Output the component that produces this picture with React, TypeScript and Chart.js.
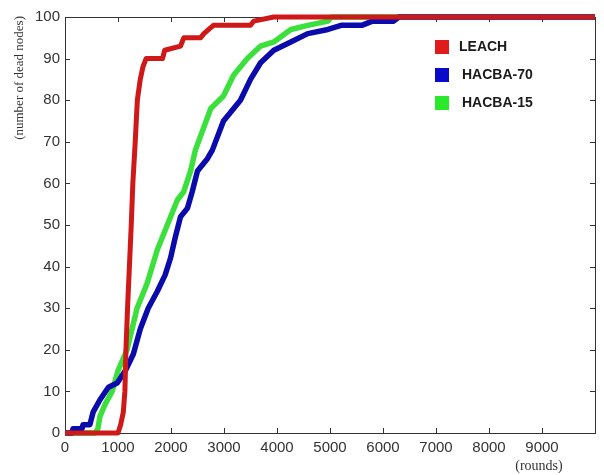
import { useEffect, useRef } from "react";
import { Chart, registerables } from "chart.js";

Chart.register(...registerables);

const xTickValues = [0, 1000, 2000, 3000, 4000, 5000, 6000, 7000, 8000, 9000];
const yTickValues = [0, 10, 20, 30, 40, 50, 60, 70, 80, 90, 100];

const seriesLabels = ["LEACH", "HACBA-70", "HACBA-15"];
const lineColors = ["#cf1818", "#0b0bab", "#3ce03c"];
const legendColors = ["#e01b1b", "#0a0acc", "#2ae82a"];

const leachRounds = [0, 1000, 1050, 1100, 1130, 1150, 1180, 1215, 1250, 1280, 1325, 1365, 1420, 1470, 1530, 1840, 1880, 2180, 2240, 2560, 2620, 2800, 3500, 3560, 3940, 10000];
const leachDead = [0, 0, 2, 5, 10, 20, 30, 40, 50, 60, 70, 80, 85, 88, 90, 90, 92, 93, 95, 95, 96, 98, 98, 99, 100, 100];

const hacba70Rounds = [0, 130, 150, 320, 340, 470, 530, 660, 820, 985, 1140, 1290, 1420, 1570, 1740, 1890, 1990, 2080, 2180, 2310, 2400, 2500, 2690, 2780, 2990, 3310, 3500, 3690, 3940, 4260, 4580, 4960, 5210, 5600, 5800, 6200, 6300, 10000];
const hacba70Dead = [0, 0, 1, 1, 2, 2, 5, 8, 11, 12, 15, 19, 25, 30, 34, 38, 42, 47, 52, 54, 58, 63, 66, 68, 75, 80, 85, 89, 92, 94, 96, 97, 98, 98, 99, 99, 100, 100];

const hacba15Rounds = [0, 570, 620, 660, 760, 890, 1000, 1170, 1360, 1550, 1740, 1930, 2120, 2240, 2370, 2460, 2750, 2990, 3180, 3440, 3690, 3940, 4260, 4580, 4960, 5020, 10000];
const hacba15Dead = [0, 0, 1, 4, 7, 10, 15, 20, 30, 36, 44, 50, 56, 58, 63, 68, 78, 81, 86, 90, 93, 94, 97, 98, 99, 100, 100];

const xTitle = "(rounds)";
const yTitle = "(number of dead nodes)";

const toPoints = (xs: number[], ys: number[]) => xs.map((x, i) => ({ x, y: ys[i] }));

const boxPlugin = {
  id: "matlabBox",
  beforeDatasetsDraw(chart: any) {
    const { ctx, chartArea } = chart;
    const { left, right, top, bottom } = chartArea;
    const xs = chart.scales.x;
    const ys = chart.scales.y;
    ctx.save();
    ctx.strokeStyle = "#333";
    ctx.lineWidth = 1;
    ctx.strokeRect(Math.round(left) + 0.5, Math.round(top) + 0.5, Math.round(right - left), Math.round(bottom - top));
    ctx.beginPath();
    const tl = 5;
    xTickValues.forEach((v) => {
      if (v === 0) return;
      const px = Math.round(xs.getPixelForValue(v)) + 0.5;
      ctx.moveTo(px, bottom);
      ctx.lineTo(px, bottom - tl);
      ctx.moveTo(px, top);
      ctx.lineTo(px, top + tl);
    });
    yTickValues.forEach((v) => {
      if (v === 0 || v === 100) return;
      const py = Math.round(ys.getPixelForValue(v)) + 0.5;
      ctx.moveTo(left, py);
      ctx.lineTo(left + tl, py);
      ctx.moveTo(right, py);
      ctx.lineTo(right - tl, py);
    });
    ctx.stroke();
    ctx.restore();
  },
  afterDraw(chart: any) {
    const { ctx, chartArea } = chart;
    ctx.save();
    // axis titles
    ctx.fillStyle = "#333";
    ctx.font = "13px 'Liberation Serif', 'Times New Roman', serif";
    ctx.textBaseline = "middle";
    ctx.save();
    ctx.translate(20, chartArea.top);
    ctx.rotate(-Math.PI / 2);
    ctx.textAlign = "right";
    ctx.fillText(yTitle, 1, 0);
    ctx.restore();
    ctx.font = "14px 'Liberation Serif', 'Times New Roman', serif";
    ctx.textAlign = "center";
    ctx.fillText(xTitle, chart.scales.x.getPixelForValue(9000) - 3, 466);
    // legend
    const lx = chartArea.left + 370;
    const ly0 = chartArea.top + 30;
    ctx.font = "bold 14px 'Liberation Sans', Arial, sans-serif";
    ctx.textAlign = "left";
    seriesLabels.forEach((label, i) => {
      const cy = ly0 + i * 28;
      ctx.fillStyle = legendColors[i];
      ctx.fillRect(lx, cy - 7, 14, 14);
      ctx.fillStyle = "#1a1a1a";
      ctx.fillText(label, lx + (i === 0 ? 24 : 27), cy);
    });
    ctx.restore();
  },
};

export default function App() {
  const canvasRef = useRef<HTMLCanvasElement | null>(null);

  useEffect(() => {
    if (!canvasRef.current) return;
    const series = [
      toPoints(leachRounds, leachDead),
      toPoints(hacba70Rounds, hacba70Dead),
      toPoints(hacba15Rounds, hacba15Dead),
    ];
    const chart = new Chart(canvasRef.current, {
      type: "line",
      data: {
        datasets: series.map((data, i) => ({
          label: seriesLabels[i],
          data,
          borderColor: lineColors[i],
          backgroundColor: lineColors[i],
          borderWidth: i === 0 ? 5 : 5.5,
          pointRadius: 0,
          tension: 0,
          fill: false,
          clip: false as any,
          borderJoinStyle: "round" as const,
          borderCapStyle: "butt" as const,
        })),
      },
      options: {
        animation: false,
        responsive: false,
        maintainAspectRatio: false,
        layout: { padding: { left: 0, right: 9, top: 17, bottom: 0 } },
        plugins: {
          legend: { display: false },
          tooltip: { enabled: false },
          title: { display: false },
        },
        scales: {
          x: {
            type: "linear",
            min: 0,
            max: 10000,
            afterFit: (s: any) => {
              s.height = 42;
            },
            afterBuildTicks: (s: any) => {
              s.ticks = xTickValues.map((v) => ({ value: v }));
            },
            grid: { display: false, drawTicks: false },
            border: { display: false },
            ticks: {
              padding: 6,
              color: "#333",
              maxRotation: 0,
              autoSkip: false,
              font: { family: "'Liberation Sans', Arial, sans-serif", size: 15 },
              callback: (v: any) => String(v),
            },
          },
          y: {
            type: "linear",
            min: 0,
            max: 100,
            afterFit: (s: any) => {
              s.width = 65;
            },
            afterBuildTicks: (s: any) => {
              s.ticks = yTickValues.map((v) => ({ value: v }));
            },
            grid: { display: false, drawTicks: false },
            border: { display: false },
            ticks: {
              padding: 5,
              color: "#333",
              autoSkip: false,
              font: { family: "'Liberation Sans', Arial, sans-serif", size: 15 },
              callback: (v: any) => String(v),
            },
          },
        },
      },
      plugins: [boxPlugin],
    });
    return () => chart.destroy();
  }, []);

  return (
    <div style={{ position: "absolute", left: 0, top: 0, width: 604, height: 475, background: "#fff" }}>
      <canvas ref={canvasRef} width={604} height={475} style={{ display: "block" }} />
    </div>
  );
}
